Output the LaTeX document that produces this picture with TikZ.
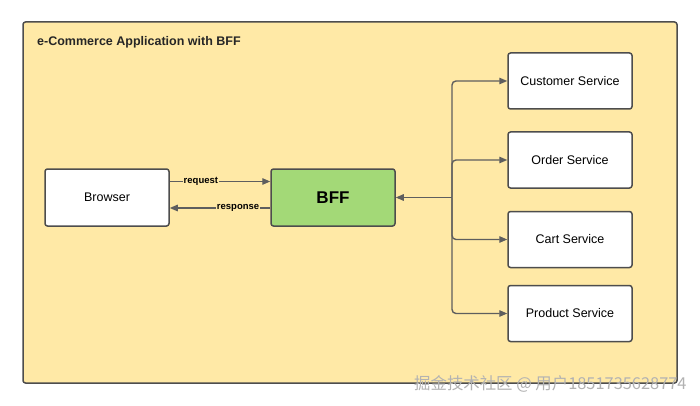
\documentclass[tikz,border=0pt]{standalone}
\usepackage{fontspec}
\setmainfont{Liberation Sans}
\newfontfamily\cjk{Noto Sans CJK SC}
\usetikzlibrary{arrows.meta,positioning}

\definecolor{appfill}{HTML}{FFE9A6}
\definecolor{bffgreen}{HTML}{A3D977}
\definecolor{edge}{HTML}{4D4D4D}
\definecolor{wire}{HTML}{5E5E5E}

\tikzset{
  box/.style={draw=edge, line width=1.5pt, rounded corners=2.5pt, fill=white,
    minimum width=124pt, minimum height=57pt, inner sep=0pt, font=\fontsize{12.5}{14}\selectfont},
  wirearrow/.style={draw=wire, line width=1.4pt, -{Triangle[length=8pt,width=6.5pt]}},
  tag/.style={fill=appfill, inner sep=1pt, font=\bfseries\fontsize{9.5}{11}\selectfont}
}

\begin{document}
\begin{tikzpicture}[x=1pt, y=-1pt]
  \useasboundingbox (0,0) rectangle (700,406);
  \fill[white] (0,0) rectangle (700,406);
  \draw[draw=edge, line width=1.5pt, fill=appfill, rounded corners=2.5pt] (23,22) rectangle (677,383);
  \node[anchor=west, inner sep=0pt, font=\bfseries\fontsize{12.5}{14}\selectfont, text=black!85] (title) at (37,42) {e-Commerce Application with BFF};

  \node[box] (browser) at (107,197.5) {Browser};
  \node[box, fill=bffgreen, font=\bfseries\fontsize{17}{19}\selectfont] (bff) at (333,197.5) {BFF};

  \node[box, minimum height=56pt] (customer) at (570,81) {Customer Service};
  \node[box, minimum height=56pt] (order) at (570,160) {Order Service};
  \node[box, minimum height=56pt] (cart) at (570,239.5) {Cart Service};
  \node[box, minimum height=56pt] (product) at (570,313.5) {Product Service};

  \draw[wirearrow] ([yshift=16pt]browser.east) -- node[tag, pos=0.31] {request} ([yshift=16pt]bff.west);
  \draw[wirearrow] ([yshift=-10.5pt]bff.west) -- node[tag, pos=0.32] {response} ([yshift=-10.5pt]browser.east);

  \coordinate (hub) at (452,197.5);
  \draw[wirearrow] (hub) -- (bff.east);
  \draw[wirearrow, rounded corners=4pt] (hub) |- (customer.west);
  \draw[wirearrow, rounded corners=4pt] (hub) |- (order.west);
  \draw[wirearrow, rounded corners=4pt] (hub) |- (cart.west);
  \draw[wirearrow, rounded corners=4pt] (hub) |- (product.west);

  \node[anchor=west, text=gray!60, font=\cjk\fontsize{16.4}{18}\selectfont, inner sep=0pt] (mark) at (414,384) {掘金技术社区 @ 用户1851735628774};
\end{tikzpicture}
\end{document}
